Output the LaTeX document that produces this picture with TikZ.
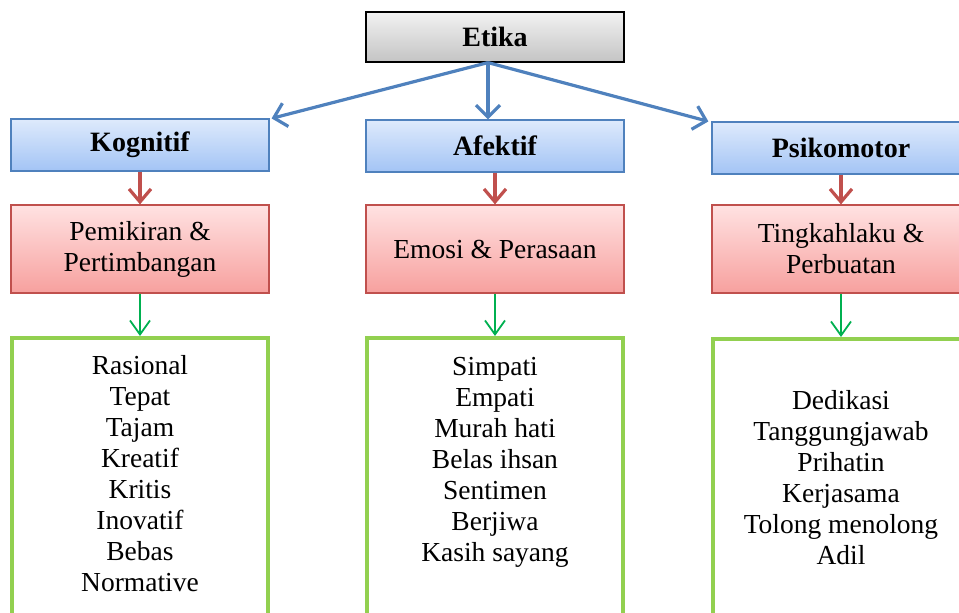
\documentclass[tikz,border=0pt]{standalone}
\usepackage{fontspec}
\setmainfont{Liberation Serif}
\usetikzlibrary{arrows.meta}

\definecolor{blueline}{RGB}{79,129,189}
\definecolor{bluetop}{RGB}{222,234,252}
\definecolor{bluebot}{RGB}{163,196,245}
\definecolor{redline}{RGB}{192,80,77}
\definecolor{redtop}{RGB}{255,226,226}
\definecolor{redbot}{RGB}{247,160,158}
\definecolor{graytop}{RGB}{242,242,242}
\definecolor{graybot}{RGB}{196,196,196}
\definecolor{greenline}{RGB}{146,208,80}
\definecolor{greenarrow}{RGB}{0,176,80}

\tikzset{
  etikabox/.style={draw=black, line width=1.2pt, top color=graytop, bottom color=graybot,
    minimum width=258pt, minimum height=50pt, font=\fontsize{28}{31}\selectfont\bfseries},
  domainbox/.style={draw=blueline, line width=1.2pt, top color=bluetop, bottom color=bluebot,
    minimum width=258pt, minimum height=52pt, font=\fontsize{28}{31}\selectfont\bfseries},
  aspectbox/.style={draw=redline, line width=1.2pt, top color=redtop, bottom color=redbot,
    minimum width=258pt, minimum height=88pt, align=center},
  listbox/.style={draw=greenline, line width=4pt, fill=white, anchor=north,
    minimum width=256pt, minimum height=300pt},
  bluearrow/.style={draw=blueline, line width=3.2pt, -{Straight Barb[length=12pt,width=24pt]}},
  redarrow/.style={draw=redline, line width=3.2pt, -{Straight Barb[length=13pt,width=22pt]}},
  greenarrow/.style={draw=greenarrow, line width=1.8pt, -{Straight Barb[length=14pt,width=20pt]}}
}

\begin{document}
\begin{tikzpicture}[x=1pt, y=-1pt, font=\fontsize{27.5}{31}\selectfont]
  \clip (0,0) rectangle (959,613);

  \node (etika) [etikabox] at (495,37) {Etika};

  \node (kognitif) [domainbox] at (140,145) {Kognitif};
  \node (afektif) [domainbox] at (495,146) {Afektif};
  \node (psikomotor) [domainbox] at (841,148) {Psikomotor};

  \node (pemikiran) [aspectbox] at (140,249) {Pemikiran \&\\Pertimbangan};
  \node (emosi) [aspectbox] at (495,249) {Emosi \& Perasaan};
  \node (tingkah) [aspectbox] at (841,249) {Tingkahlaku \&\\Perbuatan};

  \node (list1) [listbox] at (140,336) {};
  \node (list2) [listbox] at (495,336) {};
  \node (list3) [listbox] at (841,337) {};

  \node (sifat1) [align=center] at (140,474) {Rasional\\Tepat\\Tajam\\Kreatif\\Kritis\\Inovatif\\Bebas\\Normative};
  \node (sifat2) [align=center] at (495,462) {Simpati\\Empati\\Murah hati\\Belas ihsan\\Sentimen\\Berjiwa\\Kasih sayang};
  \node (sifat3) [align=center] at (841,478) {Dedikasi\\Tanggungjawab\\Prihatin\\Kerjasama\\Tolong menolong\\Adil};

  % Arrows
  \draw[bluearrow] ([xshift=-7pt]etika.south) -- ([xshift=2pt]kognitif.north east);
  \draw[bluearrow] ([xshift=-7pt]etika.south) -- ([xshift=-7pt]afektif.north);
  \draw[bluearrow] ([xshift=-7pt]etika.south) -- ([xshift=-3pt]psikomotor.north west);
  \draw[redarrow] (kognitif) -- (pemikiran);
  \draw[redarrow] (afektif) -- (emosi);
  \draw[redarrow] (psikomotor) -- (tingkah);
  \draw[greenarrow] (pemikiran) -- (list1);
  \draw[greenarrow] (emosi) -- (list2);
  \draw[greenarrow] (tingkah) -- (list3);
\end{tikzpicture}
\end{document}
